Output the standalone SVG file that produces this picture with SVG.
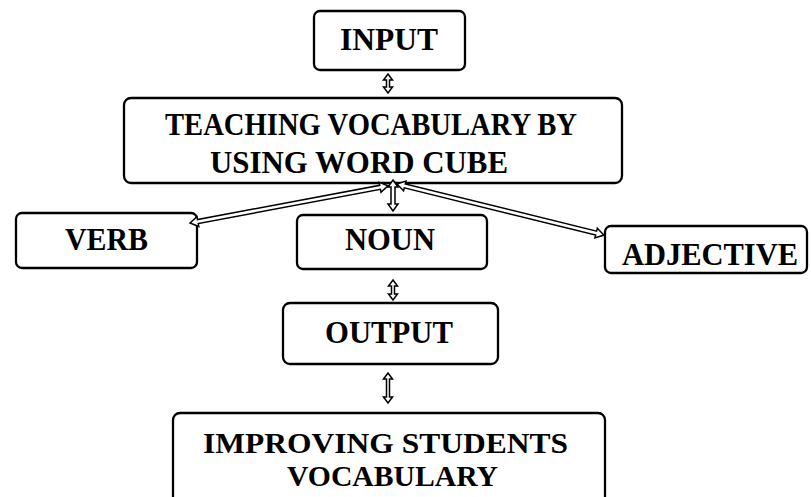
<svg xmlns="http://www.w3.org/2000/svg" width="811" height="497" viewBox="0 0 811 497">
<style>
.box{fill:#fff;stroke:#000;stroke-width:2.3}
.t{font-family:"Liberation Serif","Times New Roman",serif;font-weight:bold;fill:#000;text-anchor:middle}
.arr{fill:#fff;stroke:#000;stroke-width:1.5;stroke-linejoin:miter}
</style>
<rect width="811" height="497" fill="#fff"/>
<g id="input"><rect class="box" x="314" y="11" width="151" height="59" rx="6"/><text class="t" x="389" y="50" font-size="32" textLength="98" lengthAdjust="spacingAndGlyphs">INPUT</text></g>
<g id="teaching"><rect class="box" x="124" y="98" width="498" height="85" rx="7"/><text class="t" font-size="32"><tspan x="371" y="135" textLength="412" lengthAdjust="spacingAndGlyphs">TEACHING VOCABULARY BY</tspan><tspan x="359" y="173" textLength="298" lengthAdjust="spacingAndGlyphs">USING WORD CUBE</tspan></text></g>
<g id="verb"><rect class="box" x="16" y="213" width="181" height="55" rx="6"/><text class="t" x="106.5" y="250" font-size="31" textLength="83" lengthAdjust="spacingAndGlyphs">VERB</text></g>
<g id="noun"><rect class="box" x="297" y="215" width="190" height="54" rx="6"/><text class="t" x="390" y="250" font-size="31" textLength="90" lengthAdjust="spacingAndGlyphs">NOUN</text></g>
<g id="adjective"><rect class="box" x="605" y="226" width="202" height="47" rx="6"/><text class="t" x="710" y="265" font-size="31" textLength="176" lengthAdjust="spacingAndGlyphs">ADJECTIVE</text></g>
<g id="output"><rect class="box" x="283" y="303" width="215" height="61" rx="7"/><text class="t" x="389" y="343" font-size="31" textLength="128" lengthAdjust="spacingAndGlyphs">OUTPUT</text></g>
<g id="improving"><rect class="box" x="173" y="413" width="432" height="100" rx="7"/><text class="t" font-size="29"><tspan x="385.5" y="453" textLength="365" lengthAdjust="spacingAndGlyphs">IMPROVING STUDENTS</tspan><tspan x="392.5" y="486" textLength="211" lengthAdjust="spacingAndGlyphs">VOCABULARY</tspan></text></g>
<g id="connectors">
<path class="arr" d="M388,74 L392.5,80 L389.5,80 L389.5,87 L392.5,87 L388,93 L383.5,87 L386.5,87 L386.5,80 L383.5,80 Z"/>
<path class="arr" d="M393,180 L398,187 L395,187 L395,204 L398,204 L393,211 L388,204 L391,204 L391,187 L388,187 Z"/>
<path class="arr" d="M393,280 L397.5,286 L394.5,286 L394.5,294 L397.5,294 L393,300 L388.5,294 L391.5,294 L391.5,286 L388.5,286 Z"/>
<path class="arr" d="M388,373 L392.5,379 L389.5,379 L389.5,397 L392.5,397 L388,403 L383.5,397 L386.5,397 L386.5,379 L383.5,379 Z"/>
<g transform="translate(190,223) rotate(-10.63)"><path class="arr" d="M0,0 L8,-5 L8,-2 L193.4,-2 L193.4,-5 L201.4,0 L193.4,5 L193.4,2 L8,2 L8,5 Z"/></g>
<g transform="translate(397,184) rotate(13.86)"><path class="arr" d="M0,0 L8,-5 L8,-2 L205.1,-2 L205.1,-5 L213.1,0 L205.1,5 L205.1,2 L8,2 L8,5 Z"/></g>
</g>
</svg>
